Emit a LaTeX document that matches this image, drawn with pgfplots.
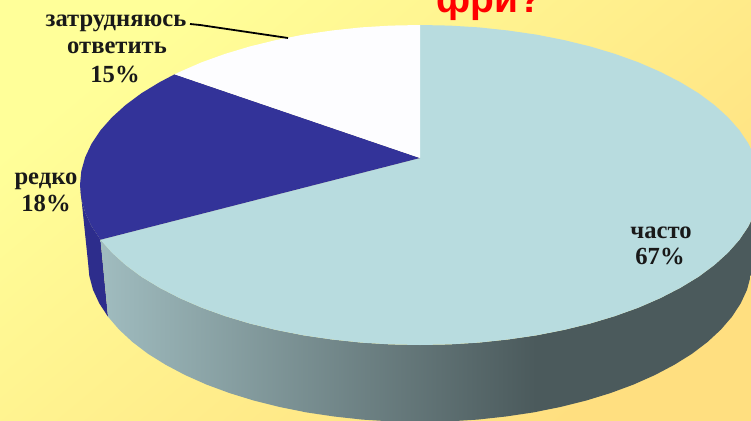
\documentclass[border=0pt]{standalone}
\usepackage{fontspec}
\setmainfont{Liberation Serif}
\newfontfamily\titlefont{Liberation Sans}
\usepackage{pgfplots}
\pgfplotsset{compat=1.18}

\definecolor{bgyellow}{HTML}{FFFF99}
\definecolor{bgorange}{HTML}{FFDF80}
\definecolor{topteal}{HTML}{B8DCDF}
\definecolor{topblue}{HTML}{333399}
\definecolor{wallblue}{HTML}{2D2D8C}
\definecolor{topwhite}{HTML}{FDFDFF}
\definecolor{walllight}{HTML}{A0BCBF}
\definecolor{walldark}{HTML}{4B5A5C}
% stops: picture box maps onto 25bp..75bp
\pgfdeclarehorizontalshading{wallshade}{100bp}{
  color(0bp)=(walllight); color(25bp)=(walllight);
  color(58bp)=(walldark); color(100bp)=(walldark)}
\tikzset{lab/.style={font=\fontsize{24.6}{28}\selectfont\bfseries, text=black!90, anchor=base, inner sep=0pt}}

\begin{document}
\begin{tikzpicture}
\path[use as bounding box, clip] (0,0) rectangle (751pt,420pt);
\begin{axis}[
    at={(0,0)}, anchor=south west,
    width=751pt, height=420pt, scale only axis,
    xmin=0, xmax=751, ymin=0, ymax=420,
    y dir=reverse,
    hide axis,
  ]
  % background
  \addplot[draw=none, top color=bgyellow, bottom color=bgorange, shading angle=40] coordinates {
    (0,0) (751,0) (751,420) (0,420)} -- cycle;

  % side wall, blue
  \addplot[draw=none, fill=wallblue] coordinates {
    (100.5,239.7) (91.6,226.4) (85.2,212.8) (81.3,198.9) (80,185)
    (88,262) (89.3,275.9) (93,289.8) (99.3,303.4) (108,316.7)} -- cycle;

  % side wall, teal
  \addplot[draw=none, shading=wallshade] coordinates {
    (100.5,239.7) (111.9,252.6) (125.6,265) (141.5,276.8) (159.6,287.8) (179.6,298.1)
    (201.4,307.6) (225,316.1) (250,323.6) (276.3,330) (303.7,335.4) (332,339.5)
    (361,342.6) (390.4,344.4) (420,345) (449.6,344.4) (479,342.6) (508,339.5)
    (536.3,335.4) (563.7,330) (590,323.6) (615,316.1) (638.6,307.6) (660.4,298.1)
    (680.4,287.8) (698.5,276.8) (714.4,265) (728.1,252.6) (739.5,239.7) (748.4,226.4)
    (754.8,212.8) (758.7,198.9) (760,185)
    (752,262) (750.7,275.9) (747,289.8) (740.7,303.4) (732,316.7) (720.9,329.6)
    (707.5,342) (692,353.8) (674.3,364.8) (654.8,375.1) (633.4,384.6) (610.4,393.1)
    (586,400.6) (560.3,407) (533.5,412.4) (505.9,416.5) (477.6,419.6) (449,421.4)
    (420,422) (391,421.4) (362.4,419.6) (334.1,416.5) (306.5,412.4) (279.7,407)
    (254,400.6) (229.6,393.1) (206.6,384.6) (185.2,375.1) (165.7,364.8) (148,353.8)
    (132.5,342) (119.1,329.6) (108,316.7)} -- cycle;

  % top face: часто 67
  \addplot[draw=none, fill=topteal] coordinates {
    (420,158) (100.5,239.7) (111.9,252.6) (125.6,265) (141.5,276.8) (159.6,287.8)
    (179.6,298.1) (201.4,307.6) (225,316.1) (250,323.6) (276.3,330) (303.7,335.4)
    (332,339.5) (361,342.6) (390.4,344.4) (420,345) (449.6,344.4) (479,342.6)
    (508,339.5) (536.3,335.4) (563.7,330) (590,323.6) (615,316.1) (638.6,307.6)
    (660.4,298.1) (680.4,287.8) (698.5,276.8) (714.4,265) (728.1,252.6) (739.5,239.7)
    (748.4,226.4) (754.8,212.8) (758.7,198.9) (760,185) (758.7,171.1) (754.8,157.2)
    (748.4,143.6) (739.5,130.3) (728.1,117.4) (714.4,105) (698.5,93.2) (680.4,82.2)
    (660.4,71.9) (638.6,62.4) (615,53.9) (590,46.4) (563.7,40) (536.3,34.6)
    (508,30.5) (479,27.4) (449.6,25.6) (420,25)} -- cycle;

  % top face: редко 18
  \addplot[draw=none, fill=topblue] coordinates {
    (420,158) (100.5,239.7) (91.6,226.4) (85.2,212.8) (81.3,198.9) (80,185)
    (81.3,171.1) (85.2,157.2) (91.6,143.6) (100.5,130.3) (111.9,117.4) (125.6,105)
    (141.5,93.2) (159.6,82.2) (174.6,74.3)} -- cycle;

  % top face: затрудняюсь ответить 15
  \addplot[draw=none, fill=topwhite] coordinates {
    (420,158) (174.6,74.3) (179.6,71.9) (201.4,62.4) (225,53.9) (250,46.4)
    (276.3,40) (303.7,34.6) (332,30.5) (361,27.4) (390.4,25.6) (420,25)} -- cycle;

  % leader line
  \addplot[black, line width=1.8pt] coordinates {(190,24) (200,25) (288,38)};

  \node[lab] at (axis cs:116,27) {затрудняюсь};
  \node[lab] at (axis cs:117,53) {ответить};
  \node[lab] at (axis cs:115,82) {15\%};
  \node[lab] at (axis cs:46,184) {редко};
  \node[lab] at (axis cs:46,211) {18\%};
  \node[lab] at (axis cs:661,238) {часто};
  \node[lab] at (axis cs:660,264) {67\%};
  \node[font=\titlefont\fontsize{39}{44}\selectfont\bfseries, text=red, anchor=base, inner sep=0pt] at (axis cs:489,12.5) {фри?};
\end{axis}
\end{tikzpicture}
\end{document}
